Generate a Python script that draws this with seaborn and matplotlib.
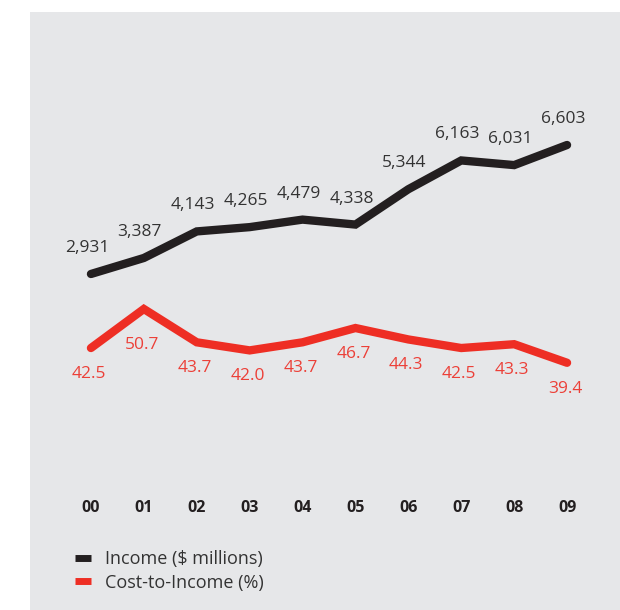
import matplotlib
matplotlib.use("Agg")
import matplotlib.pyplot as plt
import seaborn as sns
import pandas as pd
from matplotlib.patches import Rectangle
from matplotlib.lines import Line2D

years = ["00", "01", "02", "03", "04", "05", "06", "07", "08", "09"]
income = [2931, 3387, 4143, 4265, 4479, 4338, 5344, 6163, 6031, 6603]
cost_to_income = [42.5, 50.7, 43.7, 42.0, 43.7, 46.7, 44.3, 42.5, 43.3, 39.4]

BLACK = "#231f20"
RED = "#ee2e24"
RED_TXT = "#ec4038"
TXT = "#333333"
PANEL = "#e6e7e9"

sns.set_theme(style="white")
plt.rcParams["font.family"] = ["Open Sans", "DejaVu Sans"]

df = pd.DataFrame({"x": range(len(years)), "year": years,
                   "income": income, "cti": cost_to_income})

W, H = 620, 610
fig = plt.figure(figsize=(W / 100, H / 100), dpi=100)
fig.patch.set_facecolor("white")
fig.patches.append(Rectangle((30 / W, 0), 1 - 30 / W, 1 - 12 / H,
                             transform=fig.transFigure, facecolor=PANEL,
                             edgecolor="none", zorder=-10))

left = 64.5 / W
width = 529 / W
bottom = (H - 400) / H
height = 300 / H
ax = fig.add_axes([left, bottom, width, height])
ax.set_facecolor("none")
ax2 = ax.twinx()
ax2.set_facecolor("none")

sns.lineplot(data=df, x="x", y="income", ax=ax, color=BLACK, linewidth=6,
             solid_capstyle="round", solid_joinstyle="miter")
sns.lineplot(data=df, x="x", y="cti", ax=ax2, color=RED, linewidth=6,
             solid_capstyle="round", solid_joinstyle="miter")

ax.set_xlim(-0.5, len(years) - 0.5)
ax.set_ylim(-656, 7884)
ax2.set_ylim(31.58, 94.6)

for a in (ax, ax2):
    for s in a.spines.values():
        s.set_visible(False)
    a.set_yticks([])
    a.set_ylabel("")
    a.set_xlabel("")

ax.set_xticks(df["x"])
ax.set_xticklabels(years, fontsize=11.5, fontweight="bold", color=BLACK)
ax.tick_params(axis="x", length=0, pad=72)

for i, v in enumerate(income):
    ax.annotate(f"{v:,}", (i, v), textcoords="offset pixels", xytext=(-4, 26),
                ha="center", va="center", fontsize=12.5, color=TXT)

for i, v in enumerate(cost_to_income):
    peak = (0 < i < len(cost_to_income) - 1 and v > cost_to_income[i - 1]
            and v > cost_to_income[i + 1] and v - min(cost_to_income[i - 1], cost_to_income[i + 1]) > 4)
    off = -36 if peak else -26
    ax2.annotate(f"{v:.1f}", (i, v), textcoords="offset pixels", xytext=(-2, off),
                 ha="center", va="center", fontsize=12.5, color=RED_TXT)

handles = [Line2D([], [], color=BLACK, lw=5, solid_capstyle="butt"),
           Line2D([], [], color=RED, lw=5, solid_capstyle="butt")]
fig.legend(handles, ["Income ($ millions)", "Cost-to-Income (%)"],
           loc="upper left", bbox_to_anchor=(68 / W, 1 - 543 / H),
           frameon=False, handlelength=0.9, handletextpad=0.75,
           labelspacing=0.3, fontsize=13, labelcolor=TXT,
           borderaxespad=0)

fig.savefig("out.png", dpi=100, facecolor=fig.get_facecolor())
